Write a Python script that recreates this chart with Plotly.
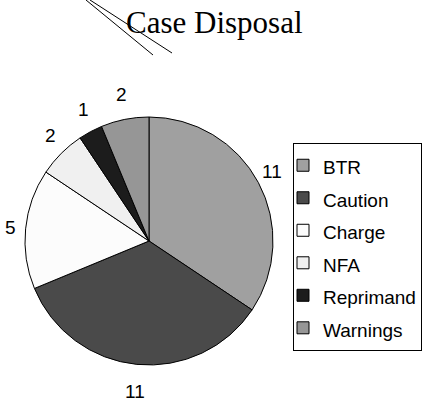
import math
import plotly.graph_objects as go

# ---- data ----
labels = ["BTR", "Caution", "Charge", "NFA", "Reprimand", "Warnings"]
values = [11, 11, 5, 2, 1, 2]
colors = ["#a0a0a0", "#4a4a4a", "#fcfcfc", "#f0f0f0", "#1c1c1c", "#969696"]
title_text = "Case Disposal"

W, H = 427, 401
# pie geometry (pixels)
cx, cy, R = 149, 241, 124
lab_rx, lab_ry = 139, 150

fig = go.Figure()
fig.add_trace(go.Pie(
    labels=[f"<span style='font-size:19px'>{l}</span>" for l in labels],
    values=values,
    marker=dict(colors=colors, line=dict(color="#000000", width=1)),
    sort=False,
    direction="clockwise",
    rotation=0,
    textinfo="none",
    hoverinfo="skip",
    domain=dict(x=[(cx - R) / W, (cx + R) / W],
                y=[(H - cy - R) / H, (H - cy + R) / H]),
))

# value labels placed outside the pie, at each slice's mid angle
total = sum(values)
cum = 0
annotations = []
for v in values:
    mid = (cum + v / 2) / total * 2 * math.pi
    cum += v
    px = cx + lab_rx * math.sin(mid)
    py = cy - lab_ry * math.cos(mid) + 1
    annotations.append(dict(
        x=px / W, y=1 - py / H, xref="paper", yref="paper",
        text=str(v), showarrow=False, xanchor="center", yanchor="middle",
        font=dict(family="Liberation Sans, Arial", size=19, color="#000000"),
    ))

annotations.append(dict(
    x=214 / W, y=1 - 23 / H, xref="paper", yref="paper",
    text=title_text, showarrow=False, xanchor="center", yanchor="middle",
    font=dict(family="Liberation Serif, Times New Roman", size=31, color="#000000"),
))

shapes = [
    dict(type="line", xref="paper", yref="paper",
         x0=86 / W, y0=1 - 0 / H, x1=153 / W, y1=1 - 55 / H,
         line=dict(color="#000000", width=1)),
    dict(type="line", xref="paper", yref="paper",
         x0=90 / W, y0=1 - 0 / H, x1=172 / W, y1=1 - 53 / H,
         line=dict(color="#000000", width=1)),
]

fig.update_layout(
    width=W, height=H,
    margin=dict(l=0, r=0, t=0, b=0),
    paper_bgcolor="#ffffff",
    plot_bgcolor="#ffffff",
    showlegend=True,
    legend=dict(
        x=293 / W, y=1 - 143 / H, xanchor="left", yanchor="top",
        xref="paper", yref="paper",
        bordercolor="#000000", borderwidth=1, bgcolor="#ffffff",
        font=dict(family="Liberation Sans, Arial", size=22.7, color="#000000"),
        traceorder="normal",
        indentation=-11,
        entrywidth=105,
    ),
    annotations=annotations,
    shapes=shapes,
)

fig.write_html("out.html", config={"displayModeBar": False},
               post_script="document.body.style.margin='0';")
